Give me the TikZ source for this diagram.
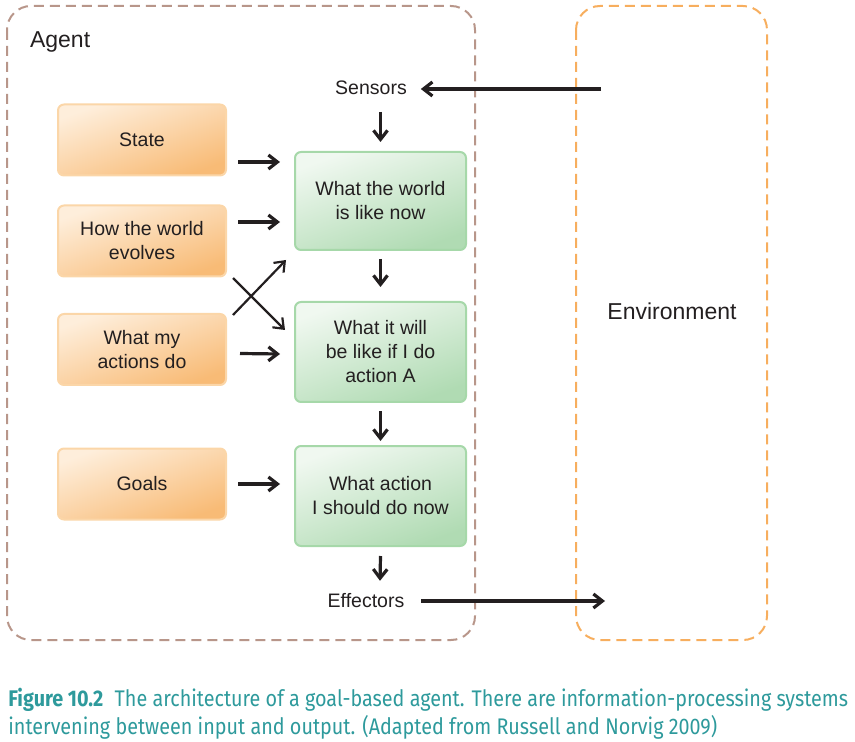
\documentclass[tikz,border=0pt]{standalone}
\usepackage{fontspec}
\setmainfont{Liberation Sans}
\newfontfamily\capfont[FakeStretch=0.875]{Fira Sans}
\usetikzlibrary{arrows.meta,calc,positioning}
\definecolor{agentline}{HTML}{B8968A}
\definecolor{envline}{HTML}{F7AE5E}
\definecolor{ink}{HTML}{231F20}
\definecolor{capteal}{HTML}{2E9A9C}
\definecolor{orlight}{HTML}{FEEEDB}
\definecolor{ordark}{HTML}{F8BB76}
\definecolor{orline}{HTML}{FBD6A8}
\definecolor{grlight}{HTML}{F0F8F0}
\definecolor{grdark}{HTML}{B0DBB3}
\definecolor{grline}{HTML}{A6D8A9}
\tikzset{
  boxtext/.style={text=ink, align=center, font=\fontsize{9.75}{12}\selectfont},
  inbox/.style={boxtext, draw=orline, line width=1pt, rounded corners=3pt,
    top color=orlight, bottom color=ordark, shading angle=20,
    minimum width=84pt, minimum height=35.5pt},
  thinkbox/.style={boxtext, draw=grline, line width=1pt, rounded corners=3pt,
    top color=grlight, bottom color=grdark, shading angle=20,
    minimum width=85.5pt, minimum height=50pt},
  label/.style={text=ink, font=\fontsize{9.75}{12}\selectfont},
  frame/.style={dash pattern=on 5pt off 3pt, line width=1pt, rounded corners=12pt},
  arr/.style={draw=ink, line width=1.6pt, -{Straight Barb[length=4.5pt,width=7pt]}},
  thinarr/.style={draw=ink, line width=1.1pt, -{Straight Barb[length=4.5pt,width=7pt]}}
}
\begin{document}
\begin{tikzpicture}[x=0.5pt,y=-0.5pt]
\useasboundingbox (0,0) rectangle (855,742);
\draw[frame, draw=agentline] (7,6) rectangle (475,640);
\draw[frame, draw=envline] (576,6) rectangle (767,640);
\node[anchor=west, text=ink, font=\fontsize{11.5}{14}\selectfont] (agent) at (23,42) {Agent};
\node[text=ink, font=\fontsize{11.5}{14}\selectfont] (env) at (672,311) {Environment};
\node[inbox] (state) at (142,140) {State};
\node[inbox] (how) at (142,241) {How the world\\evolves};
\node[inbox] (mine) at (142,349.5) {What my\\actions do};
\node[inbox] (goals) at (142,484) {Goals};
\node[thinkbox, minimum height=49pt] (world) at (380.5,201) {What the world\\is like now};
\node[thinkbox] (will) at (380.5,352) {What it will\\be like if I do\\action A};
\node[thinkbox] (act) at (380.5,496) {What action\\I should do now};
\node[label] (sens) at (371,88) {Sensors};
\node[label] (eff) at (366,601) {Effectors};
\coordinate (envin) at (601,89);
\coordinate (envout) at (605,601);
\draw[arr] (envin) -- ($(sens.east)+(7,1)$);
\draw[arr] ($(eff.east)+(10,0)$) -- (envout);
\draw[arr] ($(world.north)+(0,-39)$) -- ($(world.north)+(0,-9)$);
\draw[arr] ($(world.south)+(0,8)$) -- ($(will.north)+(0,-14)$);
\draw[arr] ($(will.south)+(0,8)$) -- ($(act.north)+(0,-4)$);
\draw[arr] ($(act.south)+(0,9)$) -- ($(eff.north)+(14,-6)$);
\draw[arr] ($(state.east)+(11,22)$) -- ($(world.west)+(-14,-39)$);
\draw[arr] ($(how.east)+(11,-19)$) -- ($(world.west)+(-14,21)$);
\draw[arr] ($(mine.east)+(13,4)$) -- ($(will.west)+(-14,2)$);
\draw[arr] ($(goals.east)+(11,0)$) -- ($(act.west)+(-14,-12)$);
\draw[thinarr] ($(how.east)+(6,37)$) -- ($(will.west)+(-9,-22)$);
\draw[thinarr] ($(mine.east)+(6,-34.5)$) -- ($(world.west)+(-8,59)$);
\node[anchor=north west, inner sep=0pt, align=left, text=capteal, font=\capfont\fontsize{11.3}{13.8}\selectfont] (cap) at (8,688)
  {\textbf{Figure 10.2}\enspace The architecture of a goal-based agent. There are information-processing systems\\
   intervening between input and output. (Adapted from Russell and Norvig 2009)};
\end{tikzpicture}
\end{document}
